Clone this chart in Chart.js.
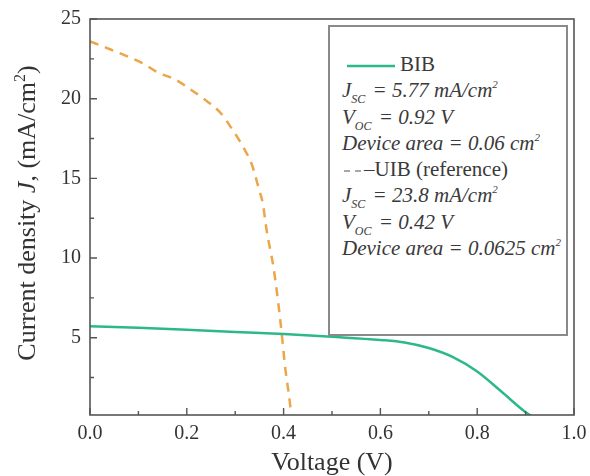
<!DOCTYPE html>
<html>
<head>
<meta charset="utf-8">
<script src="https://cdn.jsdelivr.net/npm/chart.js@4/dist/chart.umd.min.js"></script>
<style>
  html, body { margin: 0; padding: 0; background: #fff; }
  #wrap { position: relative; width: 590px; height: 476px; }
  #legendBox {
    position: absolute; left: 328px; top: 25px; width: 236px; height: 283px;
    border: 2px solid #8a8a8a; background: #fff; box-sizing: content-box;
    font-family: "Liberation Serif", "Times New Roman", serif; font-size: 21px; color: #3a3a3a;
    padding-top: 24px;
  }
  .row { height: 26.3px; line-height: 26px; white-space: nowrap; padding-left: 12px; position: relative; }
  .it { font-style: italic; }
  .sub { font-size: 12px; position: relative; top: 6px; margin-right: 2px; }
  .sup { font-size: 11px; position: relative; top: -9px; }
  .sample { display: inline-block; height: 4px; vertical-align: middle; }
</style>
</head>
<body>
<div id="wrap">
  <canvas id="c" width="590" height="476"></canvas>
  <div id="legendBox">
    <div class="row"><svg class="sample" width="50" height="4" style="width:50px;margin-left:3px;margin-right:5px"><line x1="2" y1="2" x2="50" y2="2" stroke="#2db88c" stroke-width="2.5"/></svg>BIB</div>
    <div class="row it">J<span class="sub">SC</span> = 5.77 mA/cm<span class="sup">2</span></div>
    <div class="row it">V<span class="sub">OC</span> = 0.92 V</div>
    <div class="row it">Device area = 0.06 cm<span class="sup">2</span></div>
    <div class="row"><svg class="sample" width="20" height="4" style="width:20px;margin-left:2px"><line x1="0" y1="2" x2="20" y2="2" stroke="#8a8a8a" stroke-width="1.5" stroke-dasharray="6,5"/></svg>–UIB (reference)</div>
    <div class="row it">J<span class="sub">SC</span> = 23.8 mA/cm<span class="sup">2</span></div>
    <div class="row it">V<span class="sub">OC</span> = 0.42 V</div>
    <div class="row it">Device area = 0.0625 cm<span class="sup">2</span></div>
  </div>
</div>
<script>
// ---- Data ----
const voltageBIB = [0.0, 0.1, 0.2, 0.3, 0.4, 0.5, 0.6, 0.65, 0.7, 0.75, 0.8, 0.85, 0.9, 0.917];
const currentBIB = [5.72, 5.62, 5.5, 5.36, 5.23, 5.06, 4.86, 4.7, 4.35, 3.78, 2.88, 1.62, 0.33, 0.0];

const voltageUIB = [0.0, 0.034, 0.076, 0.107, 0.141, 0.176, 0.207, 0.241, 0.269, 0.296, 0.317, 0.334, 0.348, 0.357, 0.365, 0.379, 0.389, 0.396, 0.403, 0.413, 0.416];
const currentUIB = [23.6, 23.19, 22.67, 22.25, 21.63, 21.21, 20.59, 19.86, 19.13, 17.98, 16.94, 15.9, 14.44, 13.42, 11.73, 9.44, 7.17, 5.29, 3.19, 0.92, 0.0];

const xTickValues = [0.0, 0.2, 0.4, 0.6, 0.8, 1.0];
const xMinorTicks = [0.1, 0.3, 0.5, 0.7, 0.9];
const yTickValues = [5, 10, 15, 20, 25];
const yMinorTicks = [2.5, 7.5, 12.5, 17.5, 22.5];

const xTitle = "Voltage (V)";
const seriesNames = ["BIB", "UIB (reference)"];

const SERIF = '"Liberation Serif", "Times New Roman", serif';

function pairs(xs, ys) { return xs.map((v, i) => ({ x: v, y: ys[i] })); }

const framePlugin = {
  id: 'framePlugin',
  afterDatasetsDraw(chart) {
    const { ctx, chartArea: a, scales: { x, y } } = chart;
    ctx.save();
    ctx.strokeStyle = '#555';
    ctx.lineWidth = 1.6;
    ctx.strokeRect(a.left, a.top, a.right - a.left, a.bottom - a.top);
    ctx.lineWidth = 1.4;
    ctx.beginPath();
    xTickValues.forEach(v => { const p = x.getPixelForValue(v); ctx.moveTo(p, a.bottom); ctx.lineTo(p, a.bottom - 7); });
    xMinorTicks.forEach(v => { const p = x.getPixelForValue(v); ctx.moveTo(p, a.bottom); ctx.lineTo(p, a.bottom - 4); });
    yTickValues.forEach(v => { const p = y.getPixelForValue(v); ctx.moveTo(a.left, p); ctx.lineTo(a.left + 7, p); });
    yMinorTicks.forEach(v => { const p = y.getPixelForValue(v); ctx.moveTo(a.left, p); ctx.lineTo(a.left + 4, p); });
    ctx.stroke();

    // x title
    ctx.fillStyle = '#333';
    ctx.font = '26px ' + SERIF;
    ctx.textAlign = 'center';
    ctx.textBaseline = 'alphabetic';
    ctx.fillText(xTitle, (a.left + a.right) / 2, 470);

    // y title with italic J and superscript 2
    const segs = [
      { t: 'Current density ', f: '26px ' + SERIF, dy: 0 },
      { t: 'J', f: 'italic 26px ' + SERIF, dy: 0 },
      { t: ', (mA/cm', f: '26px ' + SERIF, dy: 0 },
      { t: '2', f: '16px ' + SERIF, dy: -10 },
      { t: ')', f: '26px ' + SERIF, dy: 0 }
    ];
    let total = 0;
    segs.forEach(s => { ctx.font = s.f; s.w = ctx.measureText(s.t).width; total += s.w; });
    ctx.translate(35, 213);
    ctx.rotate(-Math.PI / 2);
    ctx.textAlign = 'left';
    let cx = -total / 2;
    segs.forEach(s => { ctx.font = s.f; ctx.fillText(s.t, cx, s.dy); cx += s.w; });
    ctx.restore();
  }
};

new Chart(document.getElementById('c'), {
  type: 'line',
  data: {
    datasets: [
      {
        label: seriesNames[0],
        data: pairs(voltageBIB, currentBIB),
        borderColor: '#2db88c',
        borderWidth: 2.5,
        pointRadius: 0,
        cubicInterpolationMode: 'monotone',
        fill: false
      },
      {
        label: seriesNames[1],
        data: pairs(voltageUIB, currentUIB),
        borderColor: '#eda54a',
        borderWidth: 2.5,
        borderDash: [9, 7],
        pointRadius: 0,
        cubicInterpolationMode: 'monotone',
        fill: false
      }
    ]
  },
  options: {
    responsive: false,
    animation: false,
    layout: { padding: { top: 19, right: 16, left: 0, bottom: 0 } },
    plugins: { legend: { display: false }, tooltip: { enabled: false } },
    scales: {
      x: {
        type: 'linear', min: 0, max: 1,
        afterFit(s) { s.height = 61; s.paddingLeft = 0; s.paddingRight = 0; },
        afterBuildTicks(s) { s.ticks = xTickValues.map(v => ({ value: v })); },
        grid: { display: false, drawTicks: false },
        border: { display: false },
        ticks: {
          padding: 7, color: '#333',
          font: { family: SERIF, size: 20 },
          callback: v => v.toFixed(1)
        }
      },
      y: {
        type: 'linear', min: 0.15, max: 25,
        afterFit(s) { s.width = 90; s.paddingTop = 0; s.paddingBottom = 0; },
        afterBuildTicks(s) { s.ticks = yTickValues.map(v => ({ value: v })); },
        grid: { display: false, drawTicks: false },
        border: { display: false },
        ticks: {
          padding: 9, color: '#333',
          font: { family: SERIF, size: 20 },
          callback: v => String(v)
        }
      }
    }
  },
  plugins: [framePlugin]
});
</script>
</body>
</html>
